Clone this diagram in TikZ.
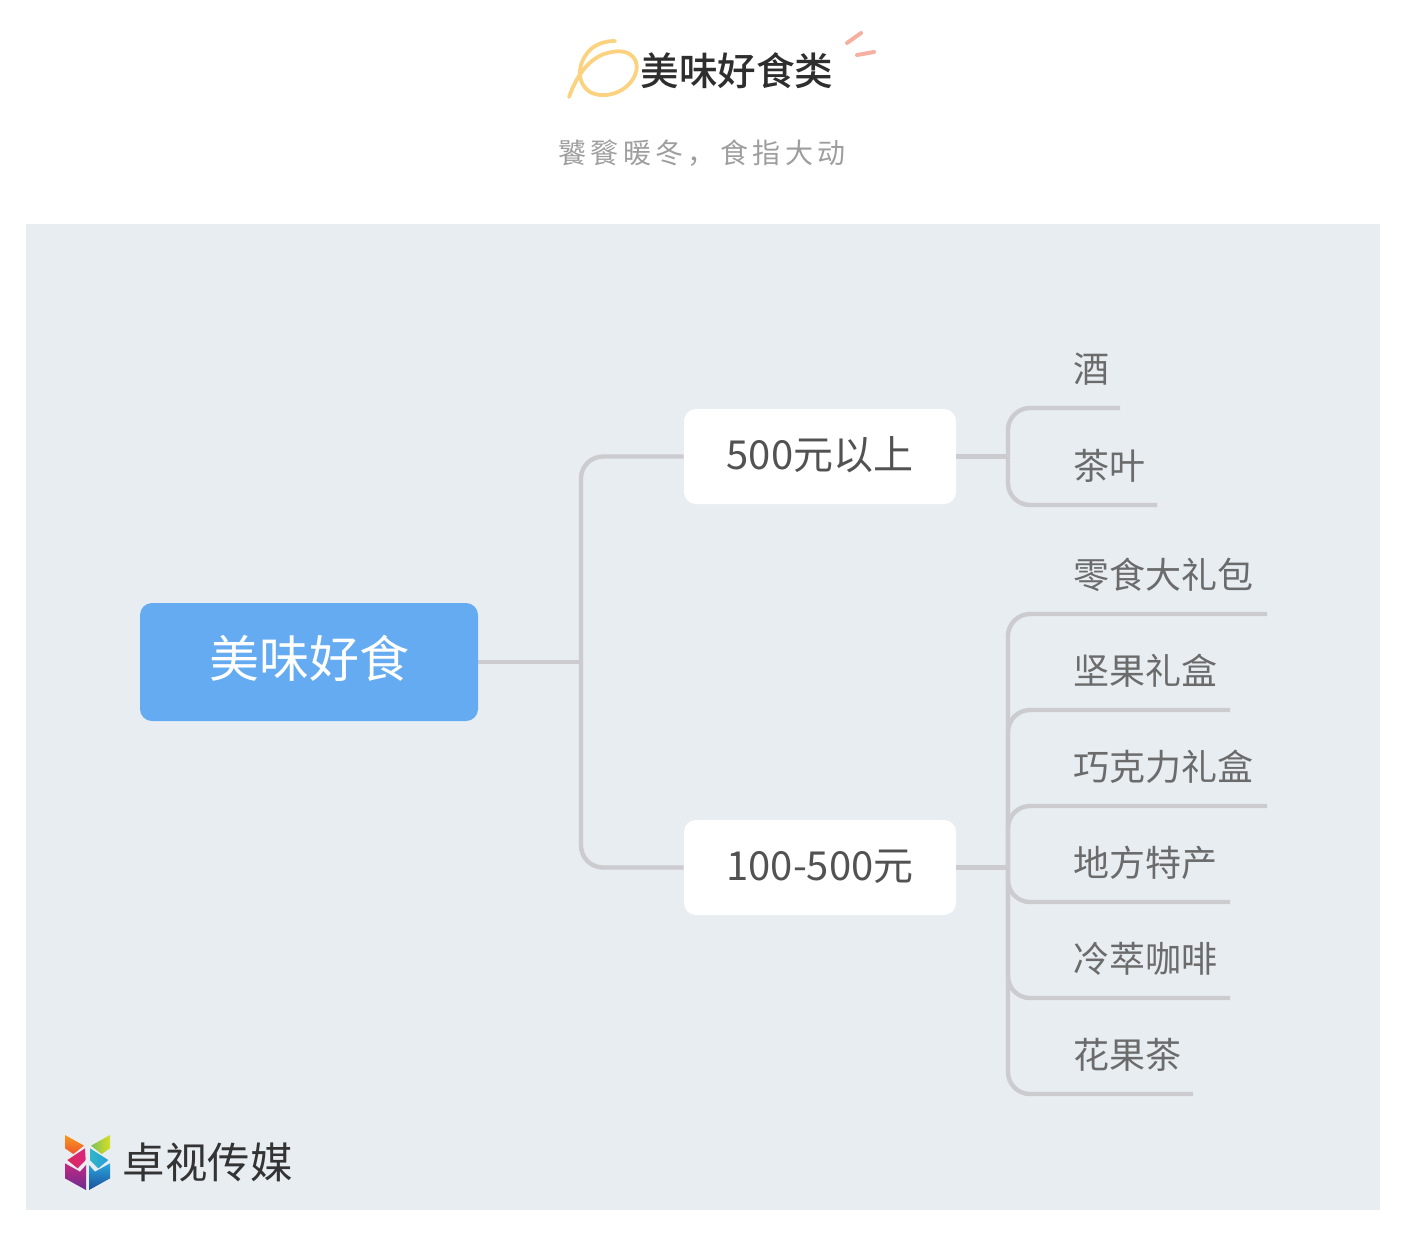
\documentclass[tikz,border=0pt]{standalone}
\usepackage{fontspec}
\setmainfont{Noto Sans CJK SC}
\newfontfamily\spaced[LetterSpace=16]{Noto Sans CJK SC}
\newfontfamily\medium{Noto Sans CJK SC Medium}
\usetikzlibrary{positioning}

\definecolor{panel}{HTML}{E8EDF2}
\definecolor{rootblue}{HTML}{64ABF2}
\definecolor{linkgray}{HTML}{CCCBD0}
\definecolor{doodle}{HTML}{FBD27F}
\definecolor{spark}{HTML}{F4B0A0}
\definecolor{logoA}{HTML}{F79A1E}
\definecolor{logoB}{HTML}{F0562C}
\definecolor{logoC}{HTML}{7FBF5A}
\definecolor{logoD}{HTML}{D7DF23}
\definecolor{logoE}{HTML}{D92A5C}
\definecolor{logoF}{HTML}{D9257F}
\definecolor{logoG}{HTML}{2FB5C8}
\definecolor{logoH}{HTML}{2A9FD8}
\definecolor{logoI}{HTML}{C6287F}
\definecolor{logoJ}{HTML}{6A2C91}
\definecolor{logoK}{HTML}{2AA5DC}
\definecolor{logoL}{HTML}{1B4F9C}

\tikzset{
	rootbox/.style={fill=rootblue, text=white, rounded corners=6pt, minimum width=169pt, minimum height=59pt, inner sep=0pt, text height=17pt, text depth=2pt, font=\fontsize{25}{28}\selectfont},
	midbox/.style={fill=white, text=black!68, rounded corners=6pt, minimum width=136pt, minimum height=47.5pt, inner sep=0pt, text height=15pt, text depth=1.8pt, font=\fontsize{20}{24}\selectfont},
	leaf/.style={anchor=west, text=black!58, inner sep=0pt, font=\fontsize{18}{22}\selectfont},
	link/.style={draw=linkgray, line width=2.2pt, rounded corners=11pt},
	stroke/.style={line width=2pt, line cap=round},
}

\begin{document}
\begin{tikzpicture}[x=0.5pt, y=-0.5pt]
	\useasboundingbox (0,0) rectangle (1414,1238);
	\fill[panel] (26,224) rectangle (1380,1210);

	% heading
	\draw[doodle, line width=1.9pt, line cap=round] (569,97) .. controls (578,72) and (592,55) .. (612,52) .. controls (632,48) and (641,62) .. (635,75) .. controls (628,92) and (605,100) .. (590,92) .. controls (575,82) and (578,62) .. (590,50) .. controls (597,43) and (607,41) .. (615,41);
	\draw[spark, stroke] (847,43) -- (861,33);
	\draw[spark, stroke] (857,55) -- (874,52);
	\node[text=black!82, inner sep=0pt, font=\fontsize{19.3}{23}\selectfont\medium] (title) at (737,70.5) {美味好食类};
	\node[text=black!38, inner sep=0pt, font=\fontsize{14}{18}\selectfont\spaced] (subtitle) at (702,153) {饕餮暖冬^^^^ff0c食指大动};

	% nodes
	\node[rootbox] (root) at (309,662) {美味好食};
	\node[midbox] (mid1) at (820,456.5) {500元以上};
	\node[midbox] (mid2) at (820,867.5) {100-500元};

	\node[leaf] (leaf1) at (1073,369.5) {酒};
	\node[leaf] (leaf2) at (1073,465.5) {茶叶};
	\node[leaf] (leaf3) at (1073,574.5) {零食大礼包};
	\node[leaf] (leaf4) at (1073,670.5) {坚果礼盒};
	\node[leaf] (leaf5) at (1073,766.5) {巧克力礼盒};
	\node[leaf] (leaf6) at (1073,862.5) {地方特产};
	\node[leaf] (leaf7) at (1073,958.5) {冷萃咖啡};
	\node[leaf] (leaf8) at (1073,1054.5) {花果茶};

	% forks and the free ends of the underlines
	\coordinate (fork0) at (581,662);
	\coordinate (fork1) at (1008,456.5);
	\coordinate (fork2) at (1008,867.5);
	\coordinate (end1) at (1120,408);
	\coordinate (end2) at (1157,505);
	\coordinate (end3) at (1267,614);
	\coordinate (end4) at (1230,710);
	\coordinate (end5) at (1267,806);
	\coordinate (end6) at (1230,902);
	\coordinate (end7) at (1230,998);
	\coordinate (end8) at (1193,1094);

	\draw[link] (root.east) -- (fork0);
	\draw[link] (fork0) |- (mid1.west);
	\draw[link] (fork0) |- (mid2.west);
	\draw[link] (mid1.east) -- (fork1);
	\draw[link] (mid2.east) -- (fork2);
	\draw[link] (fork1) |- (end1);
	\draw[link] (fork1) |- (end2);
	\draw[link] (fork2) |- (end3);
	\draw[link] (fork2) |- (end4);
	\draw[link] (fork2) |- (end5);
	\draw[link] (fork2) |- (end6);
	\draw[link] (fork2) |- (end7);
	\draw[link] (fork2) |- (end8);

	% logo
	\begin{scope}[shift={(40,1110)}, x=0.1667pt, y=-0.1667pt]
		\shade[top color=logoA, bottom color=logoB] (75,75) -- (132,107) -- (100,132) -- (75,115) -- cycle;
		\shade[left color=logoC, right color=logoD] (153,107) -- (210,75) -- (210,115) -- (185,132) -- cycle;
		\shade[left color=logoE, right color=logoF] (82,150) -- (135,115) -- (137,150) -- (113,175) -- cycle;
		\shade[left color=logoG, right color=logoH] (150,115) -- (205,150) -- (175,175) -- (150,150) -- cycle;
		\shade[top color=logoI, bottom color=logoJ] (75,160) -- (120,185) -- (138,165) -- (138,240) -- (75,205) -- cycle;
		\shade[top color=logoK, bottom color=logoL] (210,160) -- (165,185) -- (147,165) -- (147,240) -- (210,205) -- cycle;
	\end{scope}
	\node[anchor=west, text=black!80, inner sep=0pt, font=\fontsize{21.2}{25}\selectfont] (brand) at (122.5,1162.5) {卓视传媒};
\end{tikzpicture}
\end{document}
